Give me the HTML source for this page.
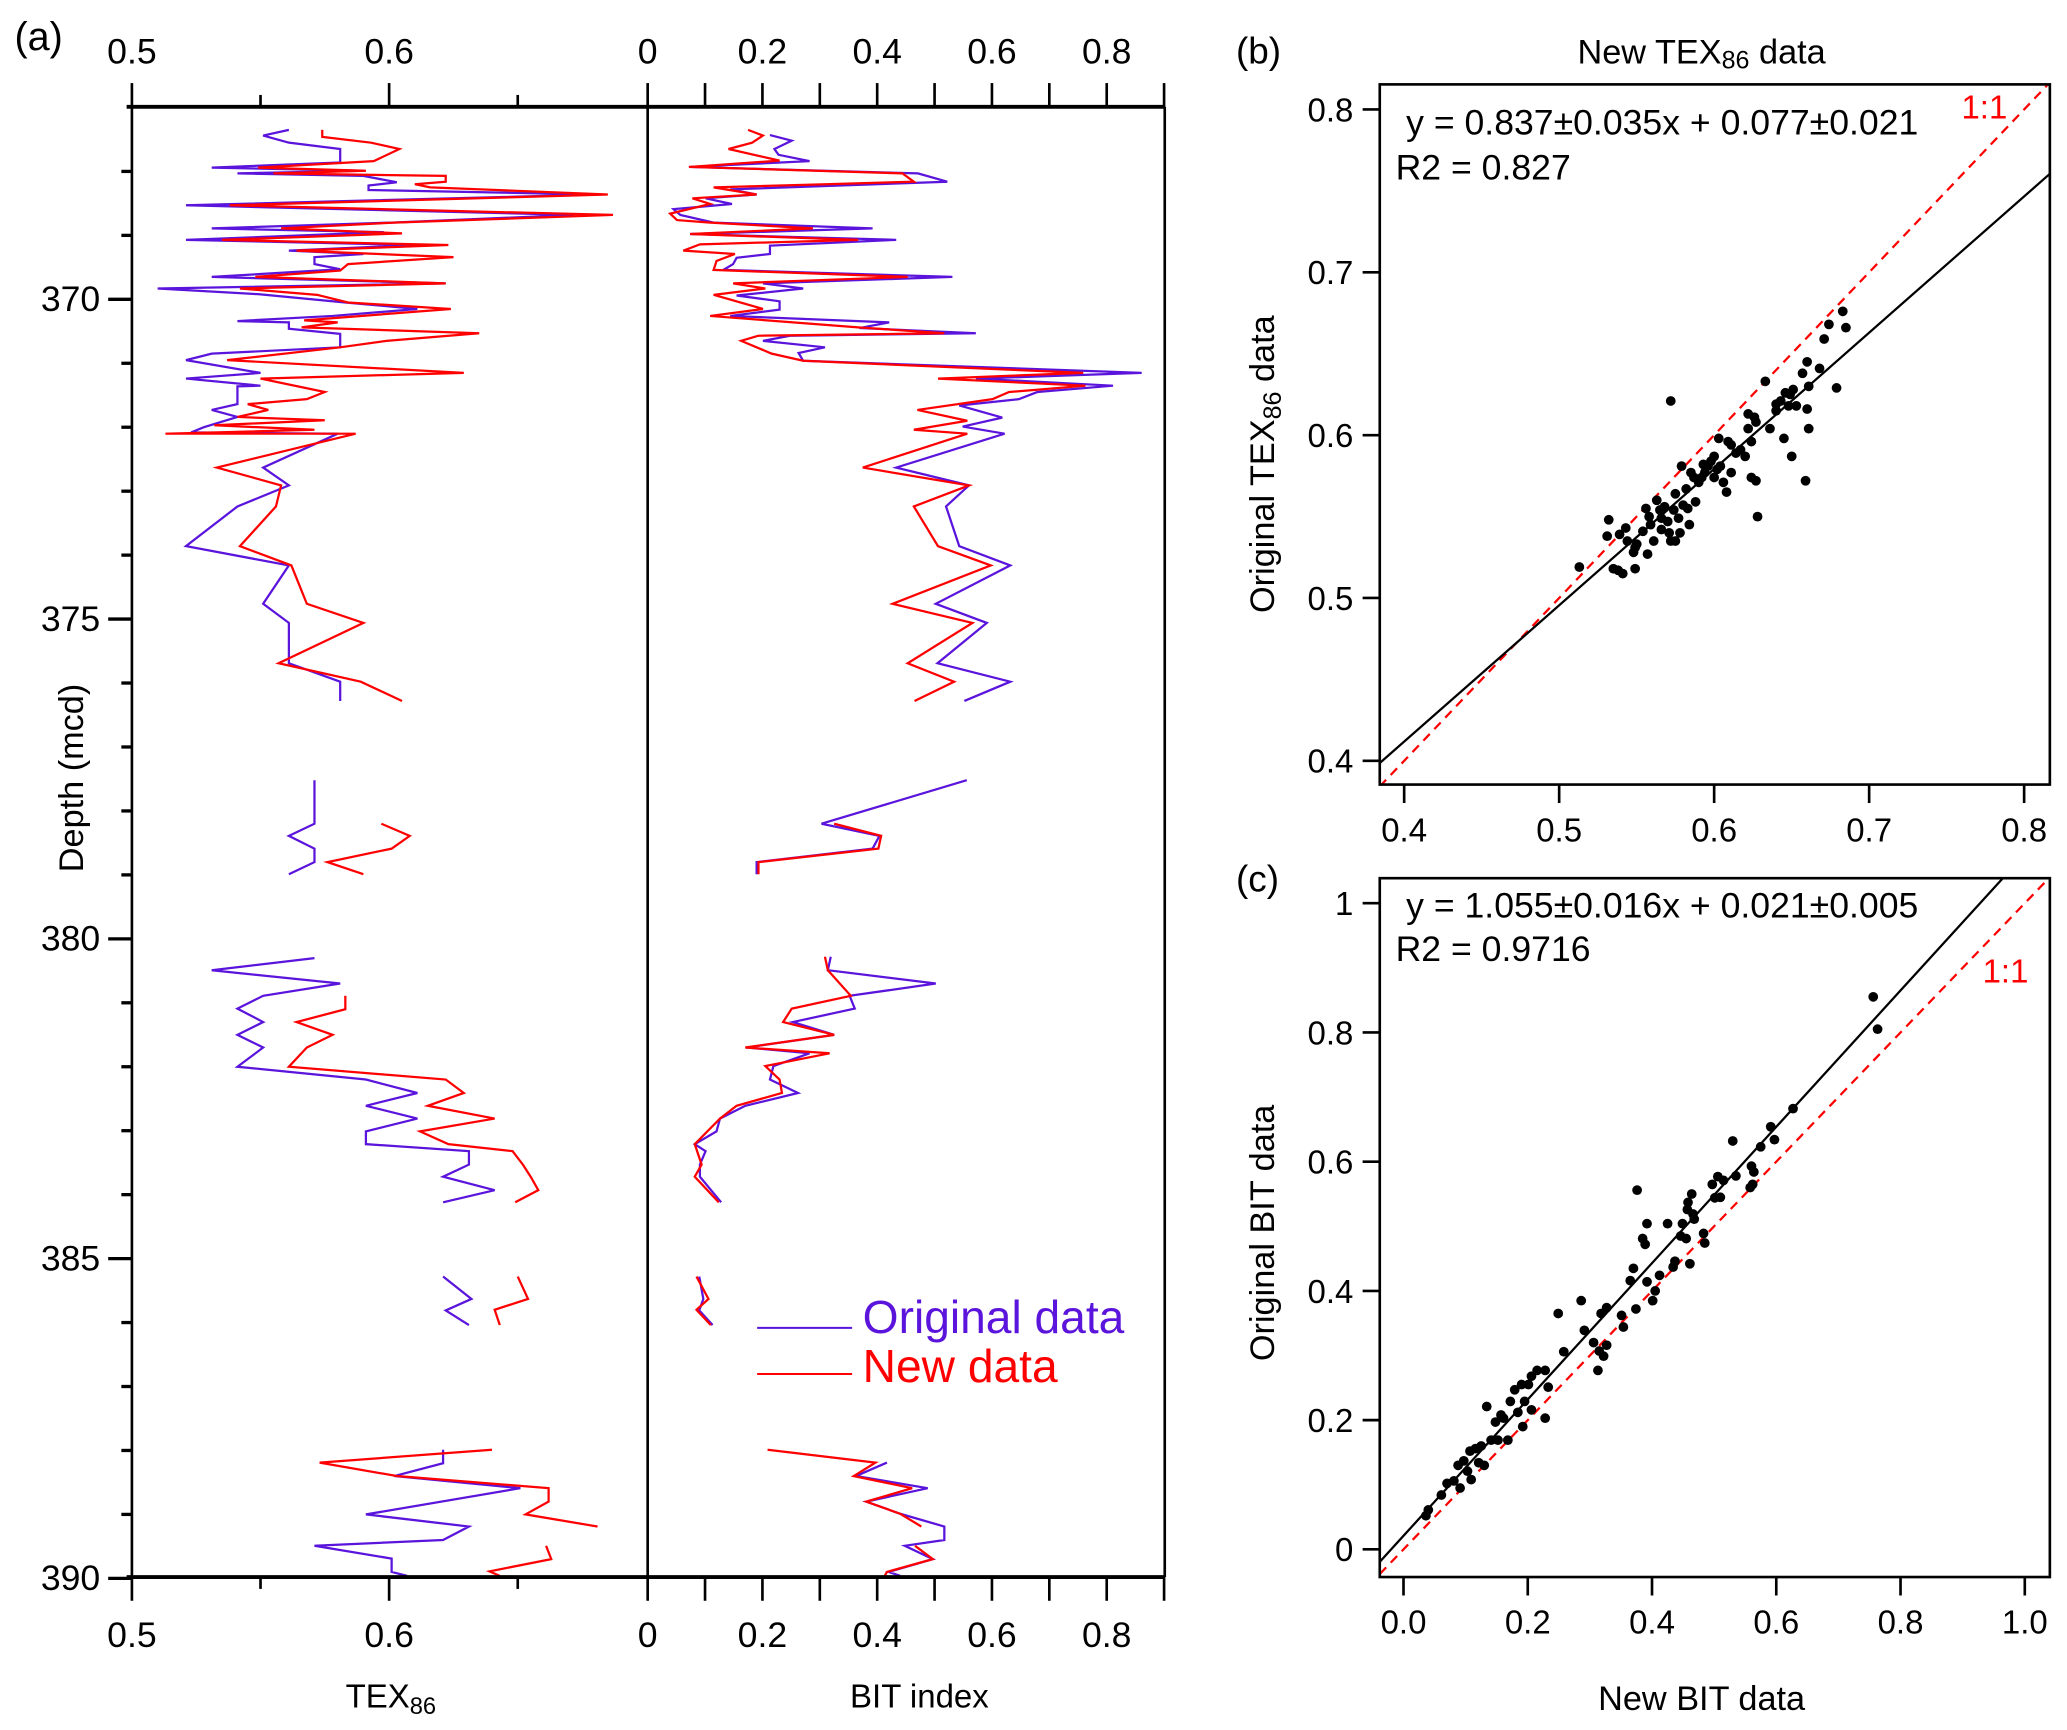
<!DOCTYPE html>
<html><head><meta charset="utf-8"><style>
html,body{margin:0;padding:0;background:#fff;}
svg{display:block;}
text{font-family:"Liberation Sans",sans-serif;fill:#000;}
.nar{font-family:"Liberation Sans Narrow","Liberation Sans",sans-serif;}
</style></head><body>
<svg id="fig" width="2067" height="1730" viewBox="0 0 1567 1312" preserveAspectRatio="none" xmlns="http://www.w3.org/2000/svg">
<g id="pa"></g>
<g id="pb"></g>
<g id="pc"></g>
</svg>
<script>
// ---------- Panel (a) data ----------
const texOrigDepth=[367.35,367.44,367.55,367.65,367.86,367.94,367.99,368.03,368.07,368.17,368.22,368.29,368.36,368.53,368.68,368.80,368.89,368.95,369.07,369.15,369.24,369.29,369.34,369.45,369.53,369.65,369.75,369.83,369.92,370.05,370.15,370.26,370.34,370.36,370.46,370.54,370.75,370.85,370.95,371.15,371.24,371.35,371.36,371.64,371.73,371.84,372.00,372.08,372.10,372.63,372.91,373.24,373.86,374.16,374.76,375.06,375.69,375.98,376.28,null,377.52,378.20,378.39,378.59,378.80,378.99,null,380.30,380.49,380.70,380.89,381.09,381.30,381.50,381.70,382.00,382.20,382.41,382.61,382.81,383.01,383.21,383.32,383.53,383.72,383.93,384.12,null,385.28,385.63,385.81,386.04,null,387.99,388.20,388.40,388.59,389.00,389.19,389.40,389.49,389.69,389.90,389.96];
const texOrigVal=[0.561,0.551,0.561,0.581,0.581,0.531,0.590,0.541,0.590,0.603,0.592,0.592,0.681,0.521,0.672,0.601,0.531,0.598,0.521,0.611,0.561,0.590,0.571,0.571,0.581,0.531,0.622,0.510,0.549,0.583,0.611,0.578,0.541,0.561,0.561,0.581,0.581,0.531,0.521,0.550,0.521,0.550,0.541,0.541,0.531,0.541,0.528,0.523,0.580,0.551,0.561,0.541,0.521,0.561,0.551,0.561,0.561,0.581,0.581,null,0.571,0.571,0.561,0.571,0.571,0.561,null,0.571,0.531,0.581,0.551,0.541,0.551,0.541,0.551,0.541,0.591,0.611,0.591,0.611,0.591,0.591,0.631,0.631,0.621,0.641,0.621,null,0.621,0.632,0.622,0.631,null,0.621,0.621,0.602,0.651,0.591,0.631,0.621,0.571,0.601,0.601,0.607];
const texNewDepth=[367.35,367.46,367.55,367.65,367.84,367.94,367.99,368.03,368.07,368.16,368.20,368.25,368.36,368.53,368.68,368.80,368.89,368.97,369.07,369.15,369.24,369.34,369.45,369.55,369.65,369.75,369.83,369.93,370.05,370.15,370.33,370.36,370.44,370.53,370.65,370.75,370.95,371.15,371.24,371.45,371.56,371.64,371.73,371.84,371.89,371.97,372.04,372.10,372.10,372.63,372.91,373.24,373.86,374.16,374.76,375.06,375.69,375.98,376.28,null,378.20,378.39,378.59,378.80,378.99,null,380.89,381.10,381.30,381.50,381.70,382.00,382.20,382.41,382.61,382.81,383.01,383.21,383.32,383.53,383.72,383.93,384.12,null,385.28,385.63,385.80,386.04,null,387.99,388.19,388.40,388.59,388.80,389.00,389.19,null,389.49,389.70,389.89,389.96];
const texNewVal=[0.574,0.574,0.593,0.604,0.594,0.549,0.591,0.555,0.622,0.622,0.610,0.616,0.685,0.538,0.687,0.602,0.558,0.605,0.535,0.623,0.564,0.625,0.584,0.581,0.548,0.622,0.542,0.572,0.584,0.624,0.567,0.580,0.566,0.635,0.599,0.581,0.537,0.629,0.550,0.575,0.568,0.545,0.553,0.541,0.575,0.532,0.571,0.513,0.587,0.533,0.558,0.556,0.542,0.562,0.568,0.590,0.557,0.589,0.605,null,0.597,0.608,0.601,0.576,0.590,null,0.583,0.583,0.564,0.578,0.568,0.561,0.622,0.629,0.615,0.641,0.612,0.623,0.648,0.652,0.655,0.658,0.649,null,0.650,0.654,0.641,0.643,null,0.640,0.573,0.603,0.662,0.662,0.653,0.681,null,0.661,0.663,0.639,0.643];
const bitOrigDepth=[367.43,367.52,367.65,367.74,367.84,367.93,368.03,368.16,368.28,368.36,368.42,368.51,368.59,368.68,368.80,368.89,368.98,369.07,369.16,369.29,369.35,369.45,369.54,369.65,369.75,369.83,369.94,370.03,370.16,370.26,370.36,370.45,370.53,370.57,370.65,370.75,370.84,370.96,371.15,371.24,371.35,371.45,371.56,371.66,371.85,371.99,372.10,372.63,372.91,373.24,373.86,374.16,374.76,375.06,375.69,375.98,376.28,null,377.52,378.20,378.39,378.59,378.80,378.99,null,380.28,380.49,380.70,380.89,381.09,381.30,381.50,381.70,381.79,381.99,382.20,382.41,382.61,382.81,383.01,383.21,383.32,383.53,383.72,384.12,null,385.28,385.63,385.81,386.04,null,388.19,388.40,388.59,388.80,388.99,389.19,389.40,389.49,389.70,389.90,389.96];
const bitOrigVal=[0.213,0.251,0.221,0.228,0.282,0.072,0.471,0.522,0.144,0.190,0.101,0.147,0.045,0.057,0.115,0.392,0.074,0.433,0.213,0.213,0.155,0.149,0.132,0.531,0.201,0.271,0.155,0.230,0.230,0.144,0.421,0.369,0.572,0.248,0.201,0.309,0.263,0.271,0.861,0.572,0.811,0.679,0.647,0.543,0.618,0.549,0.622,0.433,0.560,0.520,0.543,0.632,0.502,0.591,0.505,0.632,0.552,null,0.556,0.303,0.404,0.392,0.190,0.190,null,0.319,0.314,0.502,0.352,0.361,0.253,0.325,0.172,0.282,0.219,0.213,0.262,0.170,0.126,0.120,0.082,0.101,0.091,0.091,0.128,null,0.090,0.097,0.090,0.113,null,0.417,0.363,0.488,0.381,0.440,0.517,0.517,0.448,0.497,0.420,0.440];
const bitNewDepth=[367.35,367.44,367.55,367.65,367.83,367.93,368.03,368.16,368.20,368.25,368.36,368.42,368.51,368.66,368.76,368.80,368.89,368.98,369.07,369.14,369.24,369.29,369.40,369.54,369.65,369.75,369.83,369.93,370.15,370.26,370.44,370.53,370.57,370.65,370.85,370.96,371.15,371.24,371.35,371.45,371.56,371.73,371.90,372.04,372.10,372.63,372.91,373.24,373.86,374.16,374.76,375.06,375.69,375.98,376.28,null,378.20,378.39,378.59,378.80,378.99,null,380.28,380.49,380.89,381.09,381.30,381.50,381.70,381.79,381.99,382.20,382.41,382.61,382.81,383.21,383.53,383.72,384.12,null,385.28,385.63,385.80,386.04,null,387.99,388.19,388.40,388.59,388.80,388.99,389.19,null,389.49,389.70,389.90,389.96];
const bitNewVal=[0.175,0.201,0.182,0.141,0.230,0.072,0.444,0.464,0.311,0.115,0.190,0.078,0.109,0.039,0.051,0.109,0.288,0.074,0.367,0.091,0.062,0.152,0.120,0.115,0.453,0.149,0.205,0.115,0.201,0.109,0.367,0.517,0.193,0.163,0.216,0.271,0.759,0.506,0.763,0.630,0.601,0.470,0.557,0.464,0.557,0.375,0.560,0.464,0.506,0.598,0.427,0.566,0.453,0.534,0.465,null,0.325,0.407,0.402,0.193,0.193,null,0.309,0.314,0.354,0.251,0.236,0.325,0.170,0.317,0.205,0.230,0.234,0.155,0.126,0.082,0.094,0.082,0.124,null,0.085,0.106,0.085,0.110,null,0.209,0.397,0.359,0.461,0.381,0.440,0.477,null,0.466,0.497,0.417,0.413];
const depthTicks=[368,369,370,371,372,373,374,375,376,377,378,379,380,381,382,383,384,385,386,387,388,389,390];
const depthLabels=[370,375,380,385,390];
const texTicksMajor=[0.5,0.6];
const texTicksMinor=[0.55,0.65];
const bitTicks=[0,0.1,0.2,0.3,0.4,0.5,0.6,0.7,0.8,0.9];
const bitLabels=[0,0.2,0.4,0.6,0.8];
// ---------- Panel (b) data ----------
const texNewX=[0.513,0.532,0.531,0.535,0.538,0.541,0.543,0.539,0.544,0.549,0.548,0.550,0.549,0.554,0.557,0.556,0.558,0.559,0.561,0.563,0.565,0.566,0.566,0.568,0.570,0.571,0.572,0.574,0.575,0.575,0.577,0.578,0.579,0.580,0.582,0.583,0.584,0.585,0.587,0.588,0.590,0.592,0.593,0.594,0.596,0.598,0.600,0.600,0.602,0.603,0.604,0.606,0.608,0.609,0.611,0.611,0.614,0.617,0.620,0.622,0.622,0.624,0.624,0.626,0.627,0.628,0.633,0.636,0.640,0.640,0.643,0.645,0.646,0.648,0.650,0.649,0.651,0.653,0.657,0.659,0.660,0.660,0.661,0.661,0.668,0.671,0.674,0.679,0.683,0.685,0.572,0.627];
const texOrigY=[0.519,0.548,0.538,0.518,0.517,0.515,0.543,0.539,0.535,0.531,0.528,0.533,0.518,0.541,0.527,0.555,0.550,0.545,0.535,0.560,0.554,0.549,0.542,0.556,0.547,0.540,0.535,0.554,0.535,0.564,0.549,0.540,0.581,0.557,0.567,0.555,0.545,0.577,0.574,0.559,0.571,0.574,0.582,0.577,0.581,0.584,0.587,0.574,0.579,0.598,0.581,0.571,0.565,0.596,0.577,0.594,0.589,0.591,0.587,0.613,0.604,0.596,0.574,0.611,0.608,0.550,0.633,0.604,0.619,0.615,0.621,0.598,0.626,0.618,0.587,0.625,0.628,0.618,0.638,0.572,0.645,0.616,0.630,0.604,0.641,0.659,0.668,0.629,0.676,0.666,0.621,0.572];
const texTicks=[0.4,0.5,0.6,0.7,0.8];
const texFit=[0.837,0.077];
// ---------- Panel (c) data ----------
const bitNewX=[0.036,0.040,0.061,0.070,0.081,0.088,0.091,0.097,0.103,0.107,0.109,0.116,0.121,0.125,0.130,0.134,0.141,0.148,0.152,0.157,0.161,0.168,0.172,0.179,0.184,0.190,0.192,0.195,0.201,0.206,0.206,0.215,0.228,0.228,0.233,0.249,0.258,0.286,0.291,0.306,0.315,0.318,0.322,0.327,0.327,0.351,0.354,0.365,0.370,0.374,0.376,0.385,0.389,0.392,0.392,0.401,0.405,0.412,0.425,0.434,0.437,0.446,0.449,0.455,0.457,0.458,0.461,0.464,0.466,0.468,0.483,0.485,0.497,0.501,0.506,0.510,0.515,0.530,0.535,0.558,0.560,0.562,0.564,0.575,0.591,0.597,0.627,0.756,0.763,0.313];
const bitOrigY=[0.052,0.061,0.084,0.102,0.106,0.130,0.095,0.137,0.121,0.152,0.108,0.156,0.134,0.160,0.130,0.221,0.169,0.197,0.169,0.208,0.203,0.169,0.229,0.247,0.212,0.255,0.190,0.229,0.255,0.216,0.268,0.277,0.277,0.203,0.251,0.365,0.306,0.385,0.339,0.320,0.307,0.365,0.299,0.374,0.316,0.362,0.344,0.416,0.435,0.372,0.556,0.481,0.472,0.504,0.414,0.385,0.400,0.424,0.504,0.437,0.446,0.485,0.504,0.481,0.526,0.537,0.442,0.550,0.519,0.511,0.489,0.474,0.565,0.544,0.577,0.545,0.571,0.632,0.578,0.560,0.593,0.565,0.584,0.623,0.654,0.634,0.682,0.855,0.805,0.277];
const bitXTicks=[0,0.2,0.4,0.6,0.8,1.0];
const bitXLabels=["0.0","0.2","0.4","0.6","0.8","1.0"];
const bitYTicks=[0,0.2,0.4,0.6,0.8,1];
const bitYLabels=["0","0.2","0.4","0.6","0.8","1"];
const bitFit=[1.055,0.021];

const NS="http://www.w3.org/2000/svg";
function mk(parent,tag,attrs,txt){const e=document.createElementNS(NS,tag);for(const k in attrs)e.setAttribute(k,attrs[k]);if(txt!==undefined)e.textContent=txt;parent.appendChild(e);return e;}
const PURPLE="#5a14dc", RED="#ff0000";

// ===== Panel a =====
const pa=document.getElementById('pa');
const A={l:100,m:491,r:883,t:81,b:1196};
const yD=d=>227+(d-370)*48.5;
const xT=v=>100+(v-0.5)*1950;
const xB=v=>491+v*435;
function series(depths,vals,xf,color,name){
  let d="",pen=false;
  const n=Math.min(depths.length,vals.length);
  for(let i=0;i<n;i++){
    if(depths[i]===null||vals[i]===null){pen=false;continue;}
    d+=(pen?"L":"M")+xf(vals[i]).toFixed(1)+" "+yD(depths[i]).toFixed(1);pen=true;
  }
  const p=mk(pa,'path',{d:d,fill:'none',stroke:color,'stroke-width':1.7,'stroke-linejoin':'miter'});
  
  
}
series(texOrigDepth,texOrigVal,xT,PURPLE,'tex86-original-line');
series(texNewDepth,texNewVal,xT,RED,'tex86-new-line');
series(bitOrigDepth,bitOrigVal,xB,PURPLE,'bit-original-line');
series(bitNewDepth,bitNewVal,xB,RED,'bit-new-line');
let e;
e=mk(pa,'line',{x1:A.l,y1:A.t,x2:A.l,y2:A.b,stroke:'#000','stroke-width':2});
e=mk(pa,'line',{x1:A.m,y1:A.t,x2:A.m,y2:A.b,stroke:'#000','stroke-width':2});
e=mk(pa,'line',{x1:A.r,y1:A.t,x2:A.r,y2:A.b,stroke:'#000','stroke-width':2});
e=mk(pa,'line',{x1:96,y1:A.t,x2:A.r,y2:A.t,stroke:'#000','stroke-width':3});
e=mk(pa,'line',{x1:96,y1:A.b,x2:A.r,y2:A.b,stroke:'#000','stroke-width':3});
function xtick(x,len,name){
  let t=mk(pa,'line',{x1:x,y1:A.t,x2:x,y2:A.t-len,stroke:'#000','stroke-width':2});
  t=mk(pa,'line',{x1:x,y1:A.b,x2:x,y2:A.b+len,stroke:'#000','stroke-width':2});
}
function xlab(x,s,name){
  let t=mk(pa,'text',{x:x,y:48,'text-anchor':'middle','font-size':27,class:'nar'},s);
  t=mk(pa,'text',{x:x,y:1249,'text-anchor':'middle','font-size':27,class:'nar'},s);
}
texTicksMajor.forEach(v=>{xtick(xT(v),18,'tex86-tick');xlab(xT(v),v.toFixed(1),'tex86-tick-label');});
texTicksMinor.forEach(v=>xtick(xT(v),9,'tex86-minor-tick'));
bitTicks.forEach(v=>xtick(xB(v),18,'bit-tick'));
bitLabels.forEach(v=>xlab(xB(v),v===0?"0":v.toFixed(1),'bit-tick-label'));
depthTicks.forEach(d=>{
  const maj=depthLabels.indexOf(d)>=0;
  const t=mk(pa,'line',{x1:A.l-(maj?18:8),y1:yD(d),x2:A.l,y2:yD(d),stroke:'#000','stroke-width':2.5});
  
});
depthLabels.forEach(d=>{
  const t=mk(pa,'text',{x:76,y:yD(d)+9,'text-anchor':'end','font-size':27,class:'nar'},String(d));
  
});
e=mk(pa,'text',{x:11,y:38,'font-size':30,class:'nar'},'(a)');
e=mk(pa,'text',{x:0,y:0,'font-size':26,'text-anchor':'middle',transform:'translate(63 590) rotate(-90)'},'Depth (mcd)');
e=mk(pa,'text',{x:262,y:1295,'font-size':25});
e.innerHTML='TEX<tspan font-size="18" dy="5">86</tspan>';
e=mk(pa,'text',{x:697,y:1295,'font-size':25,'text-anchor':'middle'},'BIT index');
e=mk(pa,'line',{x1:574,y1:1007,x2:646,y2:1007,stroke:PURPLE,'stroke-width':1.5});
e=mk(pa,'text',{x:654,y:1011,'font-size':35,style:'fill:'+PURPLE},'Original data');
e=mk(pa,'line',{x1:574,y1:1042,x2:646,y2:1042,stroke:RED,'stroke-width':1.5});
e=mk(pa,'text',{x:654,y:1048,'font-size':35,style:'fill:'+RED},'New data');

// ===== Scatter panels =====
function scatter(g,cfg){
  const {box,xs,ys,xv,yv,xticks,xlabels,yticks,ylabels,fit,id}=cfg;
  const cp=mk(g,'clipPath',{id:id+'clip'});mk(cp,'rect',{x:box.l,y:box.t,width:box.r-box.l,height:box.b-box.t});
  const x0=(box.l-xs.o)/xs.k+xs.v, x1=(box.r-xs.o)/xs.k+xs.v;
  const X=v=>xs.o+(v-xs.v)*xs.k, Y=v=>ys.o-(v-ys.v)*ys.k;
  let ln=mk(g,'line',{x1:X(x0),y1:Y(x0),x2:X(x1),y2:Y(x1),stroke:RED,'stroke-width':1.7,'stroke-dasharray':'7 5','clip-path':'url(#'+id+'clip)'});
  
  ln=mk(g,'line',{x1:X(x0),y1:Y(fit[0]*x0+fit[1]),x2:X(x1),y2:Y(fit[0]*x1+fit[1]),stroke:'#000','stroke-width':1.7,'clip-path':'url(#'+id+'clip)'});
  
  const n=Math.min(xv.length,yv.length);
  for(let i=0;i<n;i++){
    const c=mk(g,'circle',{cx:X(xv[i]).toFixed(1),cy:Y(yv[i]).toFixed(1),r:3.7,fill:'#000'});
    
    
  }
  const fr=mk(g,'rect',{x:box.l,y:box.t,width:box.r-box.l,height:box.b-box.t,fill:'none',stroke:'#000','stroke-width':2});
  
  xticks.forEach((v,i)=>{
    let t=mk(g,'line',{x1:X(v),y1:box.b,x2:X(v),y2:box.b+14,stroke:'#000','stroke-width':2});
    t=mk(g,'text',{x:X(v),y:box.b+43,'text-anchor':'middle','font-size':25},xlabels[i]);
  });
  yticks.forEach((v,i)=>{
    let t=mk(g,'line',{x1:box.l-13,y1:Y(v),x2:box.l,y2:Y(v),stroke:'#000','stroke-width':2});
    t=mk(g,'text',{x:1026,y:Y(v)+9,'text-anchor':'end','font-size':25},ylabels[i]);
  });
}
const pb=document.getElementById('pb');
scatter(pb,{id:'b',box:{l:1046,r:1554,t:64,b:595},xs:{o:1064.5,v:0.4,k:1175},ys:{o:577,v:0.4,k:1235},
  xv:texNewX,yv:texOrigY,xticks:texTicks,xlabels:texTicks.map(v=>v.toFixed(1)),yticks:texTicks,ylabels:texTicks.map(v=>v.toFixed(1)),fit:texFit});
const pc=document.getElementById('pc');
scatter(pc,{id:'c',box:{l:1046,r:1554,t:666,b:1196},xs:{o:1064,v:0,k:471},ys:{o:1175,v:0,k:490},
  xv:bitNewX,yv:bitOrigY,xticks:bitXTicks,xlabels:bitXLabels,yticks:bitYTicks,ylabels:bitYLabels,fit:bitFit});

e=mk(pb,'text',{x:937,y:48,'font-size':28},'(b)');
e=mk(pb,'text',{x:1290,y:48,'font-size':26,'text-anchor':'middle'});
e.innerHTML='New TEX<tspan font-size="19" dy="4">86</tspan><tspan dy="-4"> data</tspan>';
e=mk(pb,'text',{x:1066,y:102,'font-size':27},'y = 0.837±0.035x + 0.077±0.021');
e=mk(pb,'text',{x:1058,y:136,'font-size':27},'R2 = 0.827');
e=mk(pb,'text',{x:1487,y:90,'font-size':25,style:'fill:'+RED},'1:1');
e=mk(pb,'text',{x:0,y:0,'font-size':26,'text-anchor':'middle',transform:'translate(966 352) rotate(-90)'});
e.innerHTML='Original TEX<tspan font-size="19" dy="5">86</tspan><tspan dy="-5"> data</tspan>';

e=mk(pc,'text',{x:937,y:676,'font-size':28},'(c)');
e=mk(pc,'text',{x:1066,y:696,'font-size':27},'y = 1.055±0.016x + 0.021±0.005');
e=mk(pc,'text',{x:1058,y:729,'font-size':27},'R2 = 0.9716');
e=mk(pc,'text',{x:1503,y:745,'font-size':25,style:'fill:'+RED},'1:1');
e=mk(pc,'text',{x:1290,y:1297,'font-size':26,'text-anchor':'middle'},'New BIT data');
e=mk(pc,'text',{x:0,y:0,'font-size':26,'text-anchor':'middle',transform:'translate(966 935) rotate(-90)'},'Original BIT data');
</script>
</body></html>
